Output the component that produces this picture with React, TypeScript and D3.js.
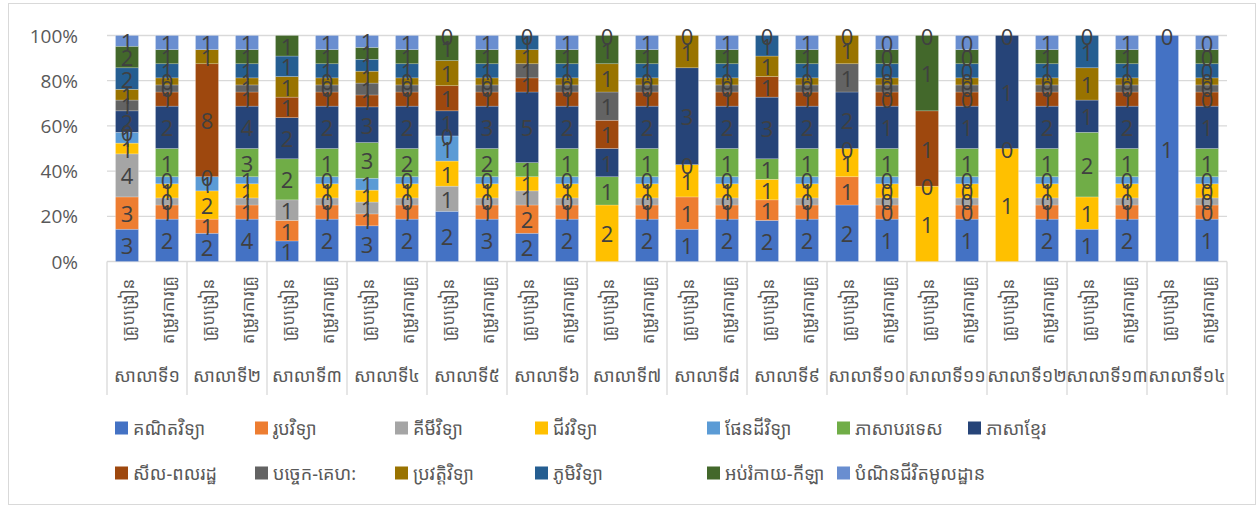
import * as d3 from "d3";

const SCHOOLS = [
  "សាលាទី១", "សាលាទី២", "សាលាទី៣", "សាលាទី៤", "សាលាទី៥", "សាលាទី៦", "សាលាទី៧",
  "សាលាទី៨", "សាលាទី៩", "សាលាទី១០", "សាលាទី១១", "សាលាទី១២", "សាលាទី១៣", "សាលាទី១៤",
];
const KINDS = ["គ្រូបង្រៀន", "តម្រូវការគ្រូ"];

const SUBJECTS = [
  "គណិតវិទ្យា", "រូបវិទ្យា", "គីមីវិទ្យា", "ជីវវិទ្យា", "ផែនដីវិទ្យា", "ភាសាបរទេស", "ភាសាខ្មែរ",
  "សីល-ពលរដ្ឋ", "បច្ចេក-គេហ:", "ប្រវត្តិវិទ្យា", "ភូមិវិទ្យា", "អប់រំកាយ-កីឡា", "បំណិនជីវិតមូលដ្ឋាន",
];
const COLORS = [
  "#4472C4", "#ED7D31", "#A5A5A5", "#FFC000", "#5B9BD5", "#70AD47", "#264478",
  "#9E480E", "#636363", "#997300", "#255E91", "#43682B", "#698ED0",
];

// 28 values each: school 1 teachers, school 1 need, school 2 teachers, ...
type V = number | null;
const MATH: V[] = [3, 1.8, 2, 4.2, 1, 1.8, 3, 2.4, 2, 2.7, 2, 1.8, null, 1.8, 1, 1.8, 2, 1.8, 2, 1.2, null, 1.2, null, 1.8, 1, 1.8, 1, 1.2];
const PHYSICS: V[] = [3, 0.6, 1, 1.4, 1, 0.6, 1, 0.8, null, 0.9, 2, 0.6, null, 0.6, 1, 0.6, 1, 0.6, 1, 0.4, null, 0.4, null, 0.6, null, 0.6, null, 0.4];
const CHEMISTRY: V[] = [4, 0.3, null, 0.7, 1, 0.3, 1, 0.4, 1, 0.45, 1, 0.3, null, 0.3, null, 0.3, null, 0.3, null, 0.2, null, 0.2, null, 0.3, null, 0.3, null, 0.2];
const BIOLOGY: V[] = [1, 0.6, 2, 1.4, null, 0.6, 1, 0.8, 1, 0.9, 1, 0.6, 2, 0.6, 1, 0.6, 1, 0.6, 1, 0.4, 1, 0.4, 1, 0.6, 1, 0.6, null, 0.4];
const EARTH: V[] = [1, 0.3, 1, 0.7, null, 0.3, 1, 0.4, 1, 0.45, null, 0.3, null, 0.3, null, 0.3, null, 0.3, null, 0.2, null, 0.2, null, 0.3, null, 0.3, null, 0.2];
const FOREIGN: V[] = [0, 1.2, 0, 2.8, 2, 1.2, 3, 1.6, 0, 1.8, 1, 1.2, 1, 1.2, 0, 1.2, 1, 1.2, 0, 0.8, 0, 0.8, 0, 1.2, 2, 1.2, null, 0.8];
const KHMER: V[] = [2, 1.8, null, 4.2, 2, 1.8, 3, 2.4, 1, 2.7, 5, 1.8, 1, 1.8, 3, 1.8, 3, 1.8, 2, 1.2, null, 1.2, 1, 1.8, 1, 1.8, null, 1.2];
const MORALITY: V[] = [null, 0.6, 8, 1.4, 1, 0.6, 1, 0.8, 1, 0.9, 1, 0.6, 1, 0.6, null, 0.6, 1, 0.6, null, 0.4, 1, 0.4, null, 0.6, null, 0.6, null, 0.4];
const TECH: V[] = [1, 0.3, null, 0.7, null, 0.3, 1, 0.4, null, 0.45, 1, 0.3, 1, 0.3, null, 0.3, null, 0.3, 1, 0.2, null, 0.2, null, 0.3, null, 0.3, null, 0.2];
const HISTORY: V[] = [1, 0.3, 1, 0.7, 1, 0.3, 1, 0.4, 1, 0.45, 1, 0.3, 1, 0.3, 1, 0.3, 1, 0.3, 1, 0.2, null, 0.2, null, 0.3, 1, 0.3, null, 0.2];
const GEOGRAPHY: V[] = [2, 0.6, null, 1.4, 1, 0.6, 1, 0.8, null, 0.9, 1, 0.6, null, 0.6, null, 0.6, 1, 0.6, null, 0.4, null, 0.4, null, 0.6, 1, 0.6, null, 0.4];
const SPORT: V[] = [2, 0.6, null, 1.4, 1, 0.6, 1, 0.8, 1, 0.9, null, 0.6, 1, 0.6, null, 0.6, null, 0.6, null, 0.4, 1, 0.4, null, 0.6, null, 0.6, null, 0.4];
const LIFESKILL: V[] = [1, 0.6, 1, 1.4, null, 0.6, 1, 0.8, 0, 0.9, 0, 0.6, 0, 0.6, 0, 0.6, 0, 0.6, 0, 0.4, 0, 0.4, 0, 0.6, 0, 0.6, 0, 0.4];

const SERIES = [MATH, PHYSICS, CHEMISTRY, BIOLOGY, EARTH, FOREIGN, KHMER, MORALITY, TECH, HISTORY, GEOGRAPHY, SPORT, LIFESKILL];
const Y_TICKS = [0, 0.2, 0.4, 0.6, 0.8, 1];

// legend layout (two rows like the Excel legend)
const LEGEND_ROWS = [[0, 1, 2, 3, 4, 5, 6], [7, 8, 9, 10, 11, 12]];
const LEGEND_X = [115, 255, 395, 535, 707, 837, 968];

const FONT = "'Leelawadee UI', 'Khmer UI', 'Noto Sans Khmer', 'Noto Sans', sans-serif";
const LABEL_FONT = "'Open Sans', 'Noto Sans', sans-serif";

export default function App() {
  const width = 1257;
  const height = 506;
  const left = 107;
  const right = 1227;
  const top = 35.5;
  const bottom = 261.5;

  const bars = SCHOOLS.flatMap((s, i) => KINDS.map((k, j) => ({ school: s, kind: k, idx: i * 2 + j })));

  const x = d3
    .scaleBand<number>()
    .domain(bars.map((b) => b.idx))
    .range([left, right])
    .paddingInner(0.425)
    .paddingOuter(0.2125);
  const step = x.step();

  const y = d3.scaleLinear().domain([0, 1]).range([bottom, top]);
  const fmt = d3.format(".0f");
  const pct = d3.format(".0%");

  // stack each bar to 100%
  const segments = bars.flatMap((b) => {
    const vals = SERIES.map((s) => s[b.idx]);
    const total = d3.sum(vals, (v) => v ?? 0);
    let acc = 0;
    const out: { idx: number; si: number; v: number; y0: number; y1: number }[] = [];
    vals.forEach((v, si) => {
      if (v === null) return;
      const y0 = acc / total;
      acc += v;
      out.push({ idx: b.idx, si, v, y0, y1: acc / total });
    });
    return out;
  });

  return (
    <svg width={width} height={height} style={{ position: "absolute", left: 0, top: 0, background: "#fff" }}>
      <rect x={8.5} y={3.5} width={1247} height={501} fill="#fff" stroke="#d9d9d9" />

      {/* gridlines */}
      {Y_TICKS.map((t) => (
        <g key={t}>
          <line x1={left} x2={right} y1={y(t)} y2={y(t)} stroke="#d9d9d9" strokeWidth={1.3} />
          <text x={78} y={y(t)} textAnchor="end" dominantBaseline="central" fontFamily={LABEL_FONT} fontSize={19} fill="#595959">
            {pct(t)}
          </text>
        </g>
      ))}

      {/* group separators below axis */}
      {d3.range(SCHOOLS.length + 1).map((i) => (
        <line key={i} x1={left + i * step * 2} x2={left + i * step * 2} y1={bottom} y2={395} stroke="#d9d9d9" strokeWidth={1.3} />
      ))}

      {/* bars */}
      {segments.map((d, i) => (
        <rect
          key={i}
          x={x(d.idx)}
          y={y(d.y1)}
          width={x.bandwidth()}
          height={Math.max(0, y(d.y0) - y(d.y1))}
          fill={COLORS[d.si]}
          stroke="#fff"
          strokeOpacity={0.35}
          strokeWidth={0.6}
        />
      ))}

      {/* data labels */}
      {segments.map((d, i) => (
        <text
          key={i}
          x={(x(d.idx) ?? 0) + x.bandwidth() / 2}
          y={y((d.y0 + d.y1) / 2)}
          textAnchor="middle"
          dominantBaseline="central"
          fontFamily={LABEL_FONT}
          fontSize={22}
          fill="#404040"
        >
          {fmt(d.v)}
        </text>
      ))}

      {/* category labels */}
      {bars.map((b) => {
        const cx = (x(b.idx) ?? 0) + x.bandwidth() / 2;
        return (
          <text
            key={b.idx}
            transform={`translate(${cx},310) rotate(-90)`}
            textAnchor="middle"
            dominantBaseline="central"
            fontFamily={FONT}
            fontSize={17}
            fill="#595959"
          >
            {b.kind}
          </text>
        );
      })}

      {/* school labels */}
      {SCHOOLS.map((s, i) => (
        <text
          key={s}
          x={left + (i + 0.5) * step * 2}
          y={375}
          textAnchor="middle"
          dominantBaseline="central"
          fontFamily={FONT}
          fontSize={18}
          fill="#595959"
        >
          {s}
        </text>
      ))}

      {/* legend */}
      {LEGEND_ROWS.map((row, r) =>
        row.map((si, c) => (
          <g key={si} transform={`translate(${LEGEND_X[c]},${428 + r * 45})`}>
            <rect x={0} y={-6.5} width={13} height={13} fill={COLORS[si]} />
            <text x={18} y={0} dominantBaseline="central" fontFamily={FONT} fontSize={18} fill="#595959">
              {SUBJECTS[si]}
            </text>
          </g>
        ))
      )}
    </svg>
  );
}
